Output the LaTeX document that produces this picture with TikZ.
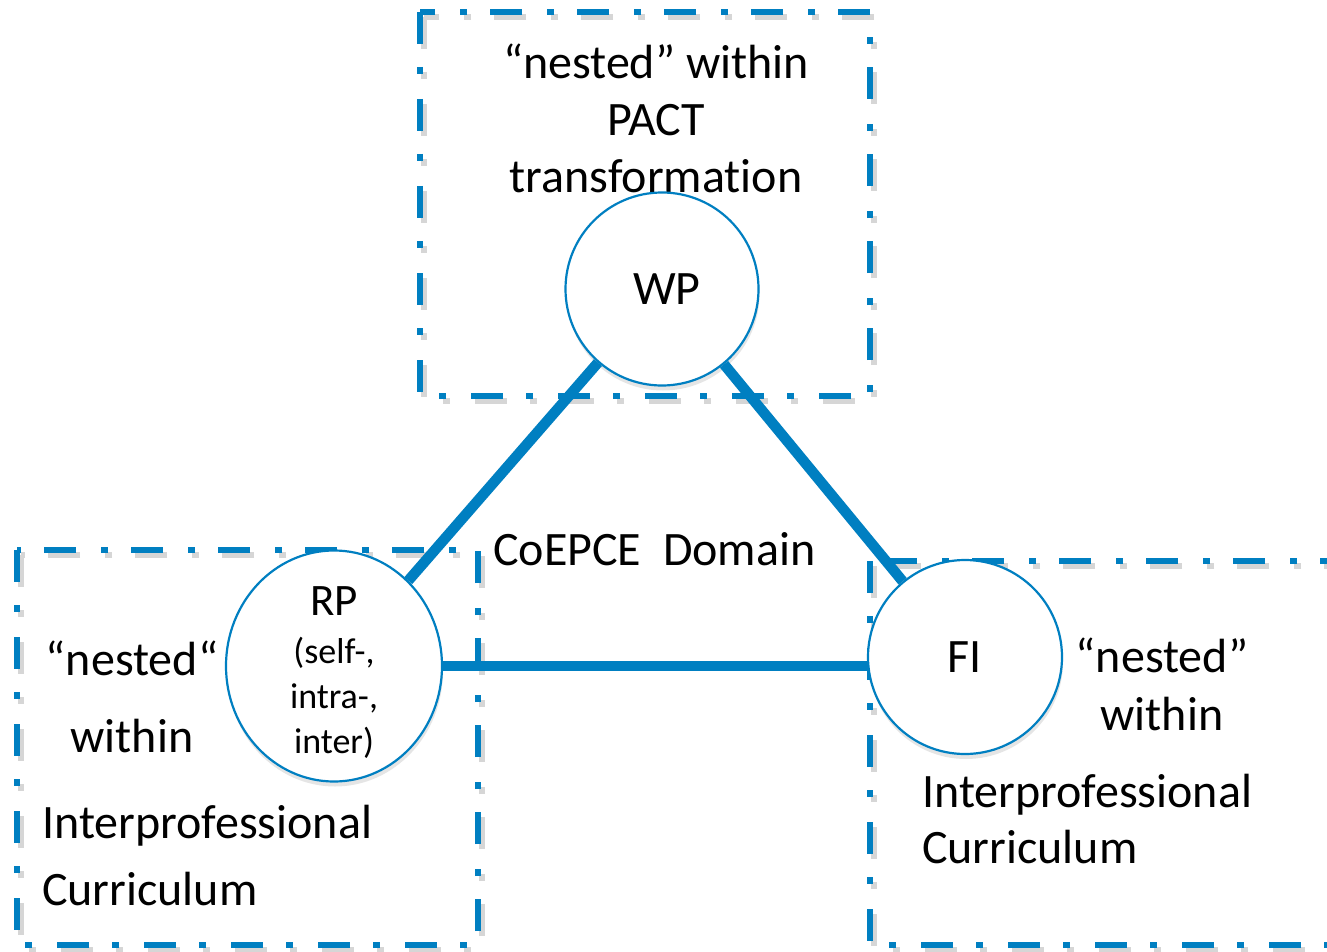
\documentclass[tikz,border=0pt]{standalone}
\usepackage{fontspec}
\setmainfont[Ligatures=NoCommon]{Carlito}
\usetikzlibrary{shapes.geometric,shadows}
\definecolor{pactblue}{RGB}{0,127,193}

\begin{document}
\begin{tikzpicture}[x=1pt, y=-1pt,
    % Stile für die gestrichelten Rahmen
        nestbox/.style={draw=pactblue, line width=6.5pt, dash pattern=on 32pt off 23pt on 7pt off 25pt},
        boxshadow/.style={nestbox, draw=black!35, opacity=0.45, xshift=4pt, yshift=-5pt},
    % Stil für die Kreise (WP, RP, FI)
        pole/.style={circle, draw=pactblue, line width=2.2pt, fill=white, inner sep=0pt, minimum size=193pt,
            font=\fontsize{48}{57}\selectfont, drop shadow={shadow xshift=1pt, shadow yshift=-5pt, opacity=0.2}},
    % Stil für die Verbindungen
        link/.style={draw=pactblue, line width=10.5pt},
        nesttext/.style={font=\fontsize{48}{57}\selectfont, inner sep=0pt}]

        \useasboundingbox (0,0) rectangle (1327,952);
        \clip (0,0) rectangle (1327,952);
        \fill[white] (0,0) rectangle (1327,952);

        % Rahmen
        \draw[boxshadow] (420,12) rectangle (870,396);
        \draw[nestbox] (420,12) rectangle (870,396);
        \draw[boxshadow] (17,550) rectangle (478,945);
        \draw[nestbox] (17,550) rectangle (478,945);
        \draw[boxshadow] (870,561) rectangle (1336,945);
        \draw[nestbox] (870,561) rectangle (1336,945);

        % Texte (anchor=base liegt auf der letzten Zeile)
        \node[nesttext, align=center, anchor=base] (pacttext) at (656,193) {“nested” within\\ PACT\\ transformation};
        \node[nesttext, anchor=base west] (domain) at (493,565) {CoEPCE\ \ Domain};
        \node[nesttext, align=center, anchor=base] (rpnested) at (132,752) {“nested“\\[20pt] within};
        \node[nesttext, align=left, anchor=base west] (rpcurr) at (42,905) {Interprofessional\\[10pt] Curriculum};
        \node[nesttext, align=center, anchor=base] (finested) at (1162,730) {“nested”\\[1pt] within};
        \node[nesttext, align=left, anchor=base west] (ficurr) at (922,863) {Interprofessional\\[-1pt] Curriculum};

        % Kreise
        \node[pole] (wp) at (662,289) {\hspace{10pt}WP};
        \node[pole, ellipse, minimum width=216pt, minimum height=231pt] (rp) at (334,666) {};
        \node[pole, minimum size=194pt] (fi) at (965,657) {FI};
        \node[nesttext, align=center, font=\fontsize{36}{45}\selectfont, anchor=base] (rptext) at (334,753)
            {{\fontsize{45}{48}\selectfont RP}\\[3pt] (self-,\\ intra-,\\ inter)};

        % Verbindungen
        \draw[link] (wp) -- (rp);
        \draw[link] (wp) -- (fi);
        \draw[link] (rp.east) -- (rp.east -| fi.west);
    \end{tikzpicture}
\end{document}
